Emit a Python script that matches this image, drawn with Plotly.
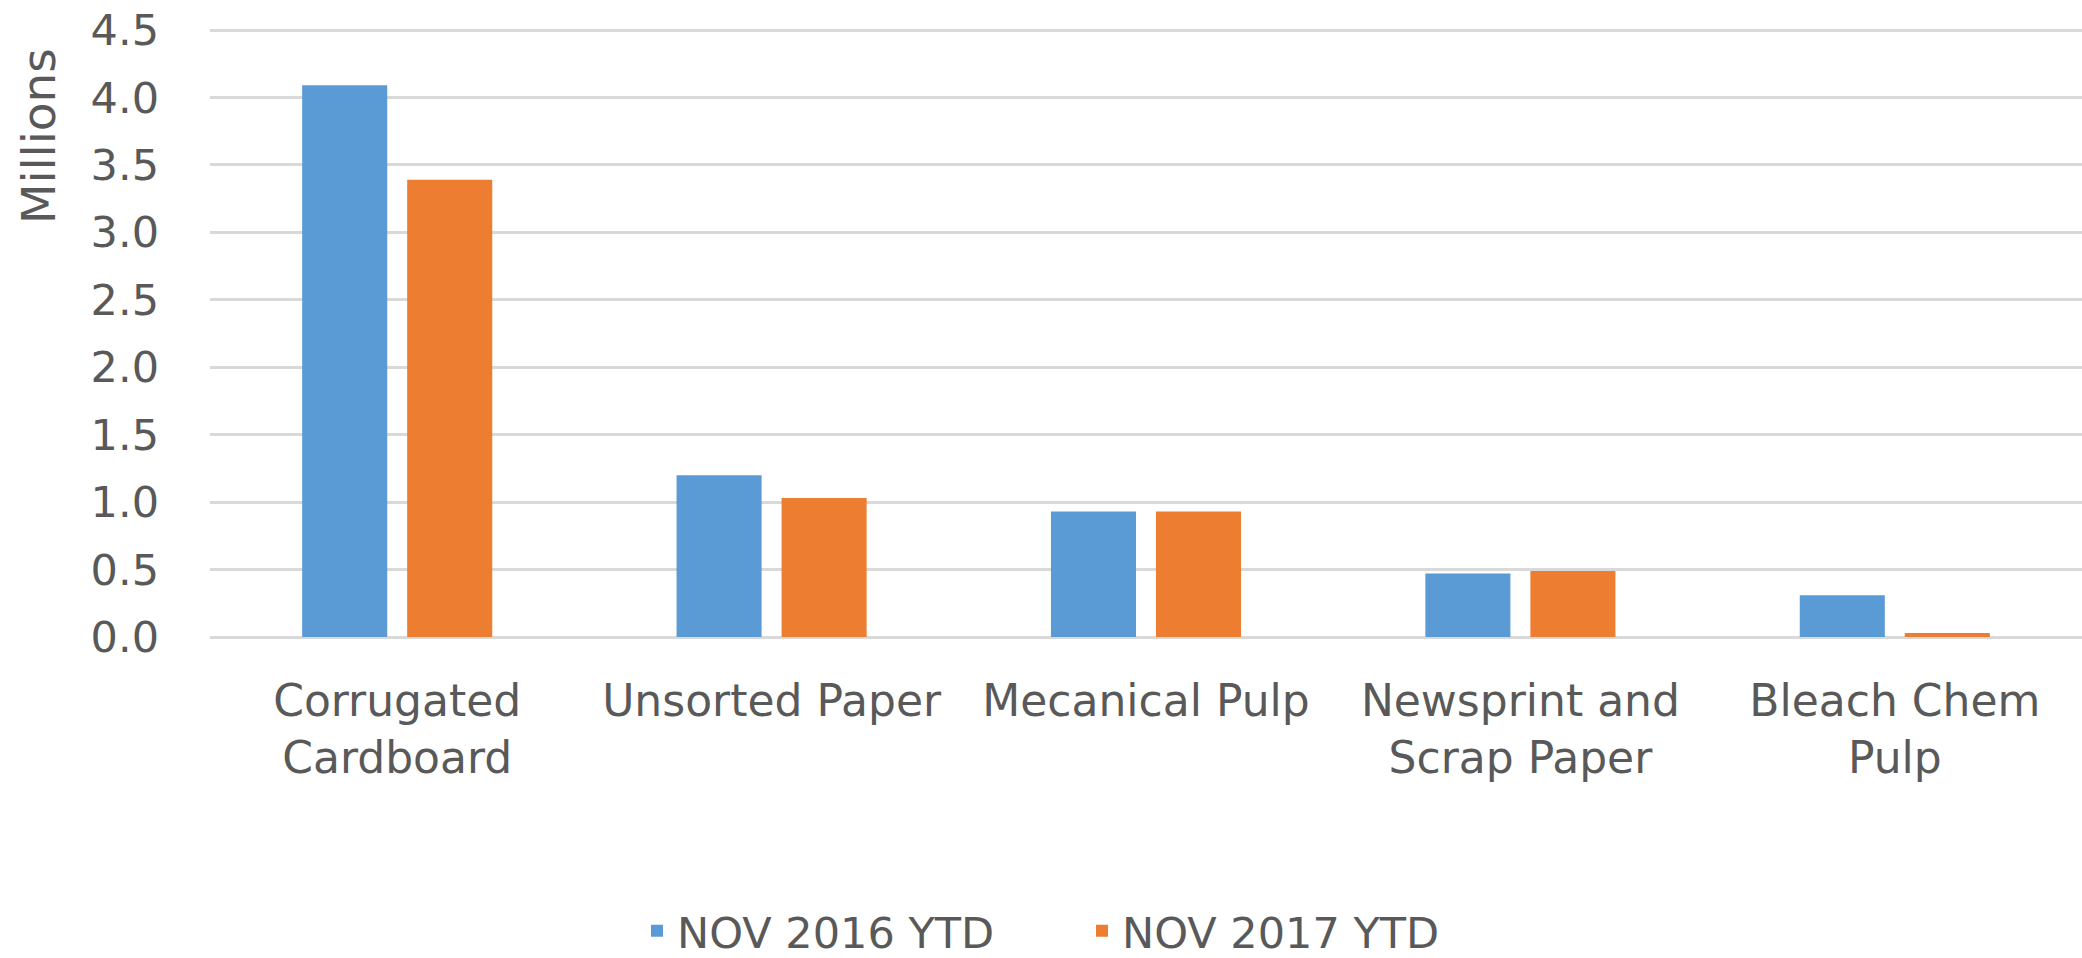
import plotly.graph_objects as go

categories = ["Corrugated<br>Cardboard", "Unsorted Paper", "Mecanical Pulp",
              "Newsprint and<br>Scrap Paper", "Bleach Chem<br>Pulp"]
series_names = ["NOV 2016 YTD", "NOV 2017 YTD"]
nov_2016 = [4.09, 1.20, 0.93, 0.47, 0.31]
nov_2017 = [3.39, 1.03, 0.93, 0.49, 0.03]
y_ticks = [0.0, 0.5, 1.0, 1.5, 2.0, 2.5, 3.0, 3.5, 4.0, 4.5]

BLUE = "#5B9BD5"
ORANGE = "#ED7D31"
TXT = "#595959"
GRID = "#D9D9D9"
FONT = "DejaVu Sans"

fig = go.Figure()
fig.add_trace(go.Bar(x=categories, y=nov_2016, name=series_names[0],
                     marker=dict(color=BLUE, line=dict(width=0))))
fig.add_trace(go.Bar(x=categories, y=nov_2017, name=series_names[1],
                     marker=dict(color=ORANGE, line=dict(width=0))))

fig.update_layout(
    width=2082, height=958,
    margin=dict(l=210, r=0, t=26, b=321, autoexpand=False),
    paper_bgcolor="white", plot_bgcolor="white",
    barmode="group", bargap=0.439, bargroupgap=0.19,
    font=dict(family=FONT, size=44, color=TXT),
    showlegend=True,
    legend=dict(orientation="h", x=0.2281, xanchor="left", y=-0.481, yanchor="middle",
                font=dict(family=FONT, size=43, color=TXT), itemwidth=30,
                entrywidth=400, entrywidthmode="pixels",
                traceorder="normal"),
    annotations=[dict(text="Millions", xref="paper", yref="paper",
                      x=-0.0913, y=0.82, textangle=-90, showarrow=False,
                      xanchor="center", yanchor="middle",
                      font=dict(family=FONT, size=47, color=TXT))],
)
fig.update_xaxes(showgrid=False, showline=False, zeroline=False, ticks="",
                 automargin=False,
                 tickfont=dict(family=FONT, size=44, color=TXT),
                 ticklabelstandoff=34)
fig.update_yaxes(range=[0, 4.5297], tickvals=y_ticks, tickformat=".1f",
                 showgrid=True, gridcolor=GRID, gridwidth=3,
                 zeroline=True, zerolinecolor=GRID, zerolinewidth=3,
                 showline=False, ticks="", automargin=False,
                 tickfont=dict(family=FONT, size=43, color=TXT),
                 ticklabelstandoff=50)

fig.write_html("out.html", config={"displayModeBar": False},
               post_script="document.body.style.margin='0px';")
